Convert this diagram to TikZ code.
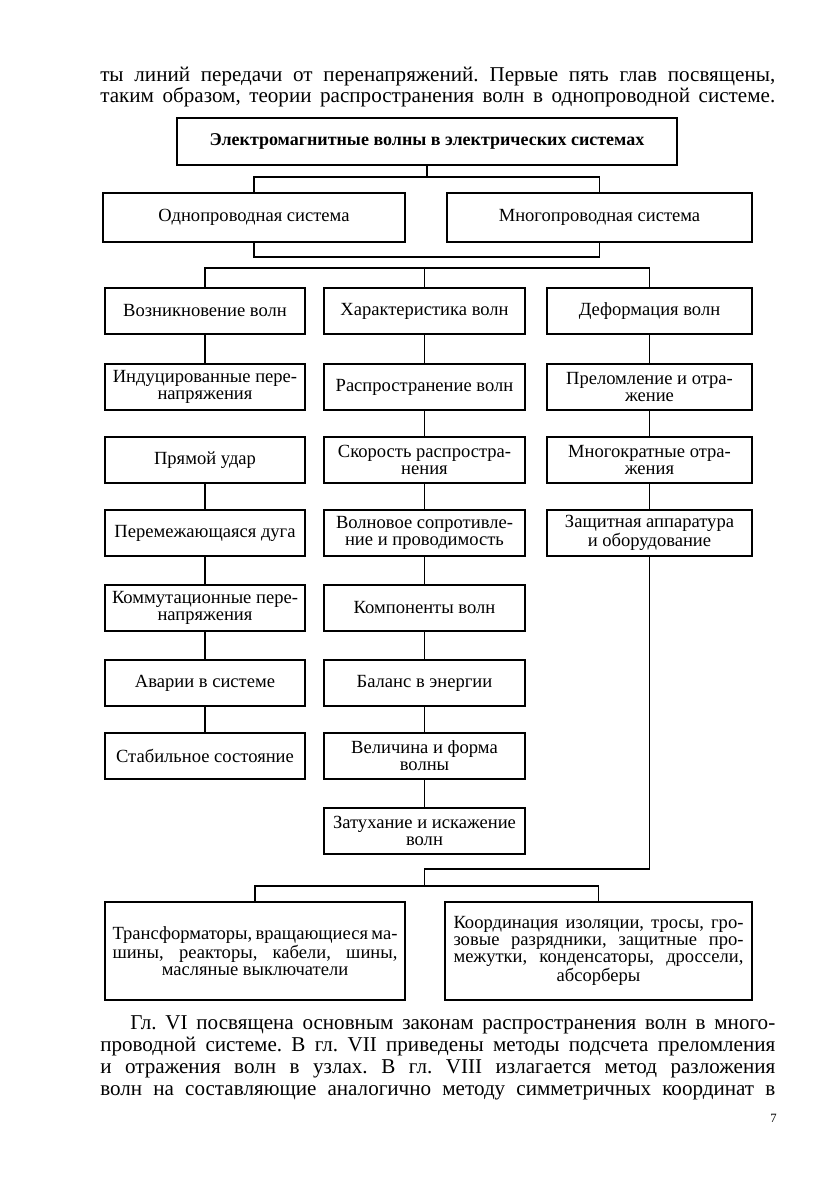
\documentclass[tikz,border=0pt]{standalone}
\usepackage{fontspec}
\setmainfont{Liberation Serif}
\frenchspacing
\newlength{\pxu}\setlength{\pxu}{0.025cm}
\newcommand{\fullline}[2][675]{\makebox[#1\pxu][s]{#2}}

\begin{document}
\begin{tikzpicture}[x=0.025cm,y=-0.025cm]
  \tikzset{box/.style = {draw, line width=0.8pt, align=center, inner sep=1pt,
      font=\fontsize{13.2}{12.2}\selectfont},
    col/.style = {box, minimum width=#1\pxu, minimum height=46\pxu},
    big/.style = {box, minimum width=#1\pxu, minimum height=98\pxu},
    txt/.style = {anchor=base west, inner sep=0pt, font=\fontsize{15}{15.6}\selectfont},
    line/.style = {line width=0.9pt}}
  \useasboundingbox[fill=white] (0,0) rectangle (840,1191);

  \node[txt] (t1) at (100,81) {\fullline{ты линий передачи от перенапряжений. Первые пять глав посвящены,}};
  \node[txt] (t2) at (100,102) {\fullline{таким образом, теории распространения волн в однопроводной системе.}};

  \node[box, minimum width=500\pxu, minimum height=47\pxu, font=\fontsize{12.8}{12}\selectfont\bfseries] (em) at (427,141.5) {Электромагнитные волны в электрических системах};
  \node[box, minimum width=302\pxu, minimum height=49\pxu] (odno) at (254,217.5) {Однопроводная система};
  \node[box, minimum width=305\pxu, minimum height=49\pxu] (mnogo) at (599.5,217.5) {Многопроводная система};

  \node[col=200] (vozn) at (205,311) {Возникновение волн};
  \node[col=200] (ind) at (205,387) {Индуцированные пере-\\напряжения};
  \node[col=200] (udar) at (205,460) {Прямой удар};
  \node[col=200] (duga) at (205,533) {Перемежающаяся дуга};
  \node[col=200] (komm) at (205,608) {Коммутационные пере-\\напряжения};
  \node[col=200] (avar) at (205,683) {Аварии в системе};
  \node[col=200] (stab) at (205,756) {Стабильное состояние};

  \node[col=201] (xar) at (424.5,311) {Характеристика волн};
  \node[col=201] (rasp) at (424.5,387) {Распространение волн};
  \node[col=201] (skor) at (424.5,460) {Скорость распростра-\\нения};
  \node[col=201] (sopr) at (424.5,533) {Волновое сопротивле-\\ние и проводимость};
  \node[col=201] (komp) at (424.5,608) {Компоненты волн};
  \node[col=201] (bal) at (424.5,683) {Баланс в энергии};
  \node[col=201] (vel) at (424.5,756) {Величина и форма\\волны};
  \node[col=201] (zat) at (424.5,831) {Затухание и искажение\\волн};

  \node[col=205] (def) at (649.5,311) {Деформация волн};
  \node[col=205] (prel) at (649.5,387) {Преломление и отра-\\жение};
  \node[col=205] (mnog) at (649.5,460) {Многократные отра-\\жения};
  \node[col=205] (zasch) at (649.5,533) {Защитная аппаратура\\и оборудование};

  \node[big=300] (transf) at (255,951) {\fullline[285]{Трансформаторы, вращающиеся ма-}\\
    \fullline[285]{шины, реакторы, кабели, шины,}\\масляные выключатели};
  \node[big=307] (koord) at (598.5,951) {\fullline[290]{Координация изоляции, тросы, гро-}\\
    \fullline[290]{зовые разрядники, защитные про-}\\
    \fullline[290]{межутки, конденсаторы, дроссели,}\\абсорберы};

  \coordinate (b1) at (427,177);
  \coordinate (b2) at (427,257);
  \coordinate (b3) at (424.5,268);
  \coordinate (b4) at (424.5,869);
  \coordinate (b5) at (424.5,886);

  \draw[line] (em.south) -- (b1);
  \draw[line] (odno.north) |- (b1) -| (mnogo.north);
  \draw[line] (odno.south) |- (b2) -| (mnogo.south);
  \draw[line] (vozn.north) |- (b3) -| (def.north);
  \draw[line] (xar.north) -- (b3);
  \foreach \a/\b in {vozn/ind, udar/duga, duga/komm, komm/avar, avar/stab,
      xar/rasp, rasp/skor, skor/sopr, sopr/komp, komp/bal, bal/vel, vel/zat,
      def/prel, prel/mnog, mnog/zasch}
    \draw[line] (\a) -- (\b);
  \draw[line] (zasch.south) |- (b4) -- (b5);
  \draw[line] (transf.north) |- (b5) -| (koord.north);

  \node[txt] (t3) at (130,1029) {\fullline[645]{Гл. VI посвящена основным законам распространения волн в много-}};
  \node[txt] (t4) at (100,1051) {\fullline{проводной системе. В гл. VII приведены методы подсчета преломления}};
  \node[txt] (t5) at (100,1073) {\fullline{и отражения волн в узлах. В гл. VIII излагается метод разложения}};
  \node[txt] (t6) at (100,1095) {\fullline{волн на составляющие аналогично методу симметричных координат в}};
  \node[txt, font=\fontsize{9}{10}\selectfont] (pg) at (770,1122) {7};
\end{tikzpicture}
\end{document}
